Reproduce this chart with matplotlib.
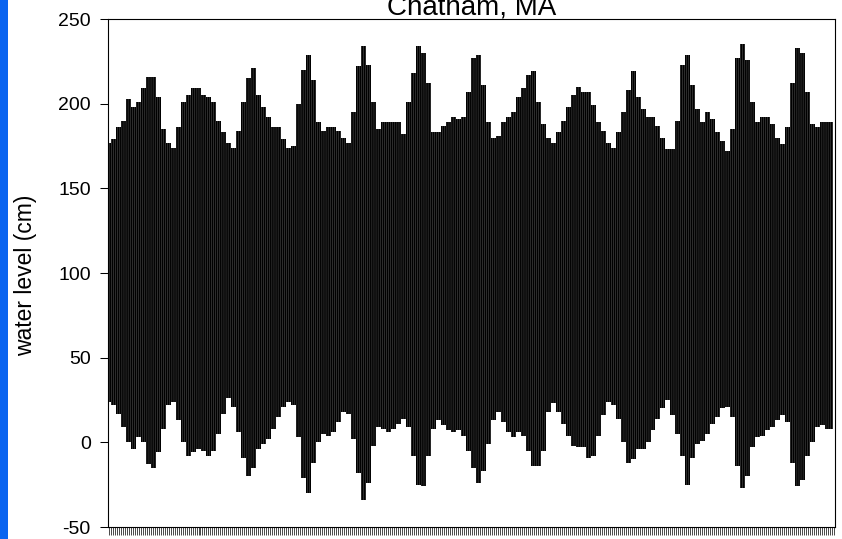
import numpy as np
import matplotlib
matplotlib.use("Agg")
import matplotlib.pyplot as plt
from matplotlib.patches import Rectangle

plt.rcParams['font.family'] = ['Liberation Sans', 'DejaVu Sans']
plt.rcParams['axes.unicode_minus'] = False
plt.rcParams['hatch.linewidth'] = 0.35

# water level envelope (cm), every 2.5 days
high_cm = [177, 179, 186, 190, 203, 198, 201, 209, 216, 216,
           204, 185, 177, 174, 186, 201, 205, 209, 209, 205,
           204, 201, 190, 183, 177, 174, 184, 201, 215, 221,
           205, 198, 192, 186, 186, 179, 174, 175, 200, 220,
           229, 214, 189, 184, 186, 186, 184, 180, 177, 195,
           222, 234, 223, 201, 185, 189, 189, 189, 189, 182,
           201, 218, 234, 230, 212, 183, 183, 187, 189, 192,
           191, 192, 207, 227, 229, 211, 189, 180, 181, 189,
           192, 195, 204, 209, 217, 219, 201, 188, 180, 177,
           183, 190, 198, 205, 210, 207, 207, 199, 189, 184,
           177, 174, 183, 195, 208, 219, 204, 197, 192, 192,
           187, 180, 173, 173, 190, 223, 229, 211, 197, 189,
           195, 191, 183, 178, 172, 185, 227, 235, 226, 201,
           189, 192, 192, 188, 180, 176, 186, 212, 233, 230,
           207, 188, 186, 189, 189, 189]
low_cm = [24, 22, 17, 9, 0, -4, 3, 0, -13, -15,
          -6, 8, 22, 24, 13, 0, -8, -6, -4, -5,
          -8, -5, 5, 17, 26, 21, 6, -9, -20, -15,
          -4, -1, 2, 8, 15, 21, 24, 22, 3, -21,
          -30, -12, 0, 5, 4, 6, 12, 18, 17, 2,
          -18, -34, -24, -2, 9, 8, 6, 8, 11, 14,
          9, -8, -25, -26, -8, 8, 13, 10, 7, 6,
          7, 4, -5, -15, -24, -17, -1, 13, 18, 12,
          6, 3, 6, 4, -5, -14, -14, -5, 18, 23,
          18, 11, 4, -2, -3, -3, -9, -8, 4, 16,
          24, 22, 14, 0, -12, -10, -4, -4, 0, 7,
          14, 20, 25, 16, 5, -8, -25, -9, -1, 1,
          5, 11, 15, 20, 21, 15, -14, -27, -20, -3,
          3, 4, 7, 9, 13, 16, 12, -12, -26, -22,
          -8, 0, 9, 10, 8, 8]
step_days = 2.5
n_days = 364

days = np.arange(len(high_cm)) * step_days

fig = plt.figure(figsize=(8.42, 5.39), dpi=100)
ax = fig.add_axes([108 / 842, 12 / 539, 727 / 842, 508 / 539])

ax.fill_between(days, low_cm, high_cm, step='mid', facecolor='black',
                edgecolor='#5a5a5a', hatch='|' * 8, linewidth=0)

ax.set_xlim(-0.3, 363.6)
ax.set_ylim(-50, 250)
ax.set_yticks(np.arange(-50, 251, 50))
ax.set_xticks(np.arange(n_days))
ax.set_xticklabels([])
ax.tick_params(axis='y', direction='out', length=5.5, width=0.75, pad=7,
               labelsize=14)
ax.tick_params(axis='x', direction='out', length=5.5, width=0.5)
for s in ax.spines.values():
    s.set_linewidth(0.8)

ax.set_ylabel('water level (cm)', fontsize=16.5)
ax.yaxis.set_label_coords(-0.097, 0.495)
ax.text(0.5, 1.0098, 'Chatham, MA', transform=ax.transAxes, ha='center',
        va='baseline', fontsize=20)

fig.add_artist(Rectangle((0, 0), 8 / 842, 1, transform=fig.transFigure,
                         facecolor='#0a64f0', edgecolor='none'))

fig.savefig('out.png', dpi=100)
